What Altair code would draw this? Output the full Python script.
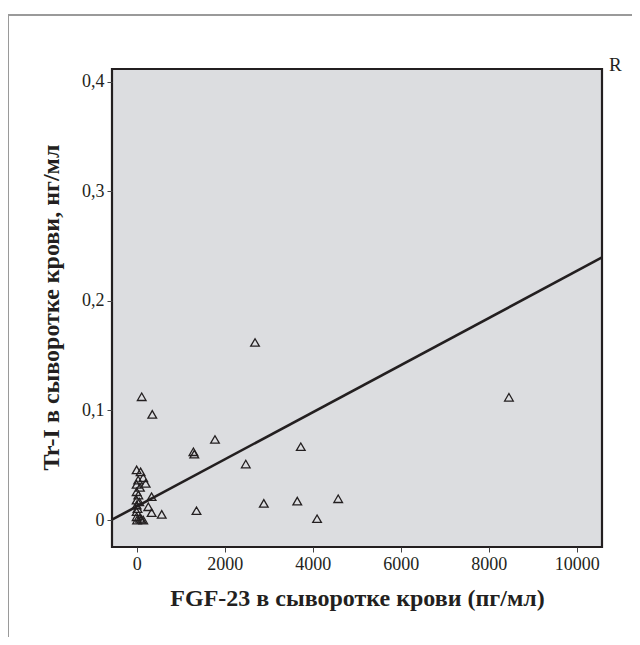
import altair as alt
import pandas as pd

# FGF-23 (pg/ml) and Tr-I (ng/ml) values
fgf = [2690, 8460, 1780, 1290, 1310, 3730, 2480, 1360, 2890, 3650, 4580, 4100,
       115, 355,
       0, 90, 150, 35, 205, 0, 75, 0, 38, 340, 0, 60, 0, 265, 20, 0, 340, 570, 0, 75, 110, 150, 10]
tri = [0.162, 0.112, 0.0735, 0.0623, 0.0602, 0.0669, 0.0511, 0.0085, 0.0152, 0.0173, 0.0194, 0.0012,
       0.1125, 0.0964,
       0.0458, 0.044, 0.0386, 0.0365, 0.0335, 0.0326, 0.0298, 0.0258, 0.0228, 0.0213, 0.0182, 0.0165,
       0.0137, 0.0121, 0.0105, 0.0076, 0.0067, 0.0052, 0.003, 0.0015, 0.0006, 0.0, 0.0]

# regression line end points (read at the frame edges)
line_x = [-560, 10575]
line_y = [0.0003, 0.2396]

x_domain = [-560, 10575]
y_domain = [-0.0246, 0.4115]
x_ticks = [0, 2000, 4000, 6000, 8000, 10000]
y_ticks = [0, 0.1, 0.2, 0.3, 0.4]

pts = pd.DataFrame({"fgf": fgf, "tri": tri})
ln = pd.DataFrame({"fgf": line_x, "tri": line_y})

FONT = "Liberation Serif"
INK = "#231f20"

xs = alt.Scale(domain=x_domain, nice=False, zero=False)
ys = alt.Scale(domain=y_domain, nice=False, zero=False)

xax = alt.Axis(values=x_ticks, title="FGF-23 в сыворотке крови (пг/мл)", format="d",
               grid=False, domain=False, tickColor="#444", tickSize=5, tickWidth=1,
               labelFont=FONT, labelFontSize=18, labelColor=INK, labelPadding=3,
               titleFont=FONT, titleFontSize=24, titleFontWeight="bold", titleColor=INK,
               titleBaseline="alphabetic", titleY=58)
yax = alt.Axis(values=y_ticks, title="Tr-I в сыворотке крови, нг/мл",
               labelExpr="datum.value == 0 ? '0' : replace(format(datum.value, '.1f'), '.', ',')",
               grid=False, domain=False, tickColor="#444", tickSize=5, tickWidth=1,
               labelFont=FONT, labelFontSize=18, labelColor=INK, labelPadding=3,
               titleFont=FONT, titleFontSize=24, titleFontWeight="bold", titleColor=INK,
               titleBaseline="alphabetic", titleAngle=-90, titleX=-54, titleY=238)

points = alt.Chart(pts).mark_point(shape="triangle-up", size=75, filled=False,
                                   color=INK, strokeWidth=1.3, opacity=1).encode(
    x=alt.X("fgf:Q", scale=xs, axis=xax),
    y=alt.Y("tri:Q", scale=ys, axis=yax),
)

reg = alt.Chart(ln).mark_line(color=INK, strokeWidth=2.6).encode(
    x=alt.X("fgf:Q", scale=xs),
    y=alt.Y("tri:Q", scale=ys),
)

rlabel = alt.Chart(pd.DataFrame({"t": ["R"]})).mark_text(
    font=FONT, fontSize=19, color=INK, align="left", baseline="alphabetic"
).encode(x=alt.value(497), y=alt.value(2), text="t:N")

border_left = alt.Chart(pd.DataFrame({"a": [0]})).mark_rule(color="#9a9a9a", strokeWidth=2).encode(
    x=alt.value(-104), y=alt.value(-54), y2=alt.value(570))
border_top = alt.Chart(pd.DataFrame({"a": [0]})).mark_rule(color="#9a9a9a", strokeWidth=2).encode(
    x=alt.value(-105), x2=alt.value(520), y=alt.value(-54))

chart = alt.layer(border_left, border_top, reg, points, rlabel).properties(
    width=490, height=478,
    autosize=alt.AutoSizeParams(type="none"),
    padding={"left": 104, "top": 61, "right": 30, "bottom": 90},
    background="white",
).configure_view(stroke=INK, strokeWidth=2.2, fill="#dcdde0")

chart.save("out.html", embed_options={"renderer": "svg", "actions": False})
